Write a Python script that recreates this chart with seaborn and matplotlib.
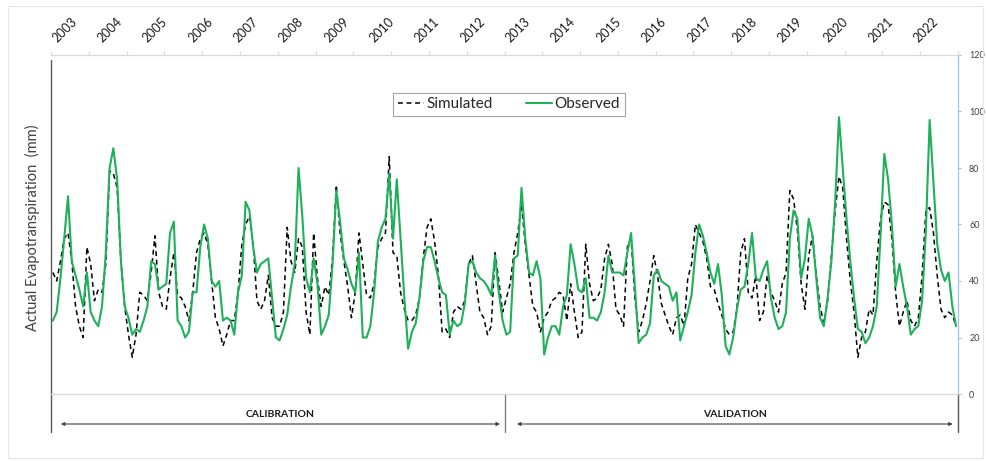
import numpy as np
import pandas as pd
import matplotlib
matplotlib.use("Agg")
import matplotlib.pyplot as plt
import matplotlib.transforms as mtransforms
from matplotlib.patches import Rectangle
import seaborn as sns

# Monthly actual evapotranspiration (mm), Jan 2003 - Dec 2022, one row per year
years = list(range(2003, 2023))

simulated = [
    43, 40, 47, 55, 57, 47, 31, 24, 20, 52, 46, 33,
    37, 36, 46, 79, 78, 73, 47, 31, 21, 13, 21, 36,
    35, 33, 43, 56, 36, 31, 30, 41, 50, 35, 34, 31,
    26, 36, 50, 55, 57, 53, 40, 27, 23, 17, 21, 26,
    26, 36, 53, 60, 63, 53, 33, 30, 33, 42, 27, 24,
    24, 29, 59, 47, 43, 55, 52, 29, 21, 57, 41, 31,
    38, 35, 48, 74, 57, 47, 38, 27, 36, 57, 46, 35,
    34, 39, 52, 55, 57, 84, 50, 49, 36, 30, 26, 26,
    28, 34, 48, 59, 62, 54, 42, 22, 23, 20, 29, 31,
    30, 33, 46, 49, 39, 29, 27, 21, 24, 50, 40, 29,
    34, 39, 50, 57, 67, 53, 42, 31, 29, 22, 27, 29,
    33, 34, 36, 35, 26, 39, 29, 20, 22, 53, 39, 33,
    34, 37, 48, 53, 46, 30, 28, 24, 52, 55, 34, 22,
    26, 32, 40, 49, 42, 32, 28, 24, 21, 27, 28, 24,
    41, 46, 60, 57, 54, 48, 38, 37, 32, 28, 23, 21,
    22, 30, 50, 55, 36, 34, 42, 26, 29, 42, 36, 33,
    29, 39, 43, 72, 69, 58, 39, 30, 49, 56, 42, 31,
    25, 33, 49, 65, 77, 73, 55, 40, 29, 13, 20, 22,
    30, 28, 47, 62, 68, 67, 55, 36, 24, 29, 33, 26,
    24, 27, 42, 65, 66, 57, 42, 30, 27, 29, 28, 24,
]

observed = [
    26, 29, 41, 55, 70, 47, 42, 37, 31, 43, 29, 26,
    24, 31, 50, 80, 87, 76, 47, 31, 27, 21, 23, 22,
    26, 31, 47, 46, 37, 38, 39, 57, 61, 26, 24, 20,
    22, 36, 36, 52, 60, 55, 40, 38, 40, 26, 27, 26,
    21, 36, 42, 68, 65, 52, 43, 46, 47, 48, 34, 20,
    19, 23, 28, 38, 46, 80, 63, 41, 36, 48, 39, 21,
    24, 28, 46, 72, 61, 48, 44, 39, 36, 50, 20, 20,
    24, 36, 54, 59, 62, 78, 55, 76, 55, 34, 16, 22,
    25, 34, 47, 52, 52, 47, 41, 36, 35, 21, 26, 24,
    25, 32, 46, 47, 43, 41, 40, 38, 35, 49, 36, 26,
    21, 22, 48, 49, 73, 55, 43, 42, 47, 41, 14, 20,
    24, 24, 21, 31, 35, 53, 46, 37, 36, 41, 27, 27,
    26, 29, 36, 49, 43, 43, 43, 42, 50, 57, 38, 18,
    20, 21, 25, 42, 44, 40, 39, 38, 33, 36, 19, 24,
    29, 35, 50, 60, 56, 50, 43, 39, 46, 35, 17, 14,
    20, 30, 37, 38, 46, 57, 41, 40, 44, 47, 34, 27,
    23, 24, 29, 55, 65, 62, 41, 48, 62, 56, 41, 27,
    24, 34, 47, 68, 98, 80, 62, 47, 34, 23, 22, 18,
    20, 24, 31, 56, 85, 76, 60, 38, 46, 38, 31, 21,
    23, 24, 33, 58, 97, 75, 53, 44, 40, 43, 31, 24,
]

series_names = ["Simulated", "Observed"]
period_labels = ["CALIBRATION", "VALIDATION"]
y_ticks = [0, 20, 40, 60, 80, 100, 120]

GREEN = "#1fb05a"
TEXT = "#404040"

sns.set_style("white")
plt.rcParams["font.family"] = ["Lato", "DejaVu Sans"]

W, H = 986, 461
fig = plt.figure(figsize=(W / 100, H / 100), dpi=100)
L, R, T, B = 51, 958, 55, 394
ax = fig.add_axes([L / W, 1 - B / H, (R - L) / W, (B - T) / H])

n = len(observed)
df = pd.DataFrame({"month": np.arange(n), series_names[0]: simulated,
                   series_names[1]: observed})

sns.lineplot(data=df, x="month", y=series_names[0], ax=ax, color="black",
             lw=1.1, linestyle=(0, (3.2, 2.4)), label=series_names[0])
sns.lineplot(data=df, x="month", y=series_names[1], ax=ax, color=GREEN,
             lw=1.5, label=series_names[1])

ax.set_xlim(-0.5, n - 0.5)
ax.set_ylim(0, 120)
ax.set_xlabel("")
ax.set_ylabel("")

# right-hand value axis
ax.yaxis.tick_right()
ax.set_yticks(y_ticks)
ax.tick_params(axis="y", right=True, length=2, color="#9dc3e6", pad=6,
               labelsize=6.5, labelcolor=TEXT)

# category tick marks along the top edge every 10 months
ax.xaxis.set_ticks_position("top")
ax.set_xticks(np.arange(-0.5, n, 10))
ax.set_xticklabels([])
ax.tick_params(axis="x", top=True, bottom=False, length=3, color="#d9d9d9",
               width=0.8)

for side in ["top", "bottom"]:
    ax.spines[side].set_color("#d9d9d9")
    ax.spines[side].set_linewidth(0.9)
ax.spines["right"].set_color("#9dc3e6")
ax.spines["right"].set_linewidth(0.9)
ax.spines["left"].set_visible(False)

trans = mtransforms.blended_transform_factory(ax.transData, ax.transAxes)
px = 1.0 / (B - T)  # one pixel in axes-fraction units (vertical)

# year labels above the plot
for k, yr in enumerate(years):
    ax.text(12 * k - 0.5 + 1.6, 1 + 12 * px, str(yr), transform=trans,
            rotation=45, rotation_mode="anchor", ha="left", va="baseline",
            fontsize=9, color="#1a1a1a")

# frame lines of the period band below the plot
band_bottom = -(432 - B) * px
split = 12 * 10 - 0.5
ax.plot([-0.5, -0.5], [1 - 5 * px, band_bottom], transform=trans,
        color="#595959", lw=1.0, clip_on=False)
ax.plot([split, split], [0, band_bottom], transform=trans,
        color="#7f7f7f", lw=1.0, clip_on=False)
ax.plot([n - 0.5, n - 0.5], [0, band_bottom], transform=trans,
        color="#595959", lw=1.0, clip_on=False)

arrow_y = -(424 - B) * px
label_y = -(414 - B) * px
periods = [(2.1, 118.3), (122.8, 238.1)]
for (x0, x1), lab in zip(periods, period_labels):
    ax.annotate("", xy=(x0, arrow_y), xytext=(x1, arrow_y), xycoords=trans,
                textcoords=trans,
                arrowprops=dict(arrowstyle="<|-|>", lw=0.8, color=TEXT,
                                mutation_scale=5, shrinkA=0, shrinkB=0),
                annotation_clip=False)
    ax.text((x0 + x1) / 2, label_y, lab, transform=trans, ha="center",
            va="center", fontsize=7.5, fontweight="bold", color="#1a1a1a")

leg = ax.legend(loc="center", bbox_to_anchor=((509 - L) / (R - L), (B - 104.5) / (B - T)),
                ncol=2, frameon=True, fancybox=False, fontsize=11,
                handlelength=1.7, handletextpad=0.15, columnspacing=2.2,
                borderpad=0.3, labelcolor="#262626")
leg.get_frame().set_edgecolor("#8c8c8c")
leg.get_frame().set_linewidth(0.8)

fig.text(32 / W, 1 - 228 / H, "Actual Evapotranspiration  (mm)", rotation=90,
         ha="center", va="center", fontsize=10.5, color=TEXT)

fig.add_artist(Rectangle((8 / W, 1 - 458 / H), (983 - 8) / W, (458 - 6) / H,
                         transform=fig.transFigure, fill=False,
                         edgecolor="#e6e6e6", lw=0.8))

fig.savefig("out.png", dpi=100)
